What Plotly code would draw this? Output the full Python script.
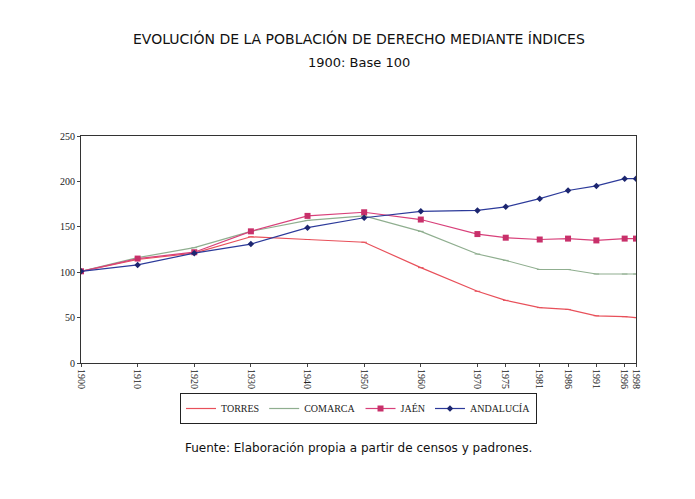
import plotly.graph_objects as go

years = [1900, 1910, 1920, 1930, 1940, 1950, 1960, 1970, 1975, 1981, 1986, 1991, 1996, 1998]
torres = [101, 114, 121, 139, 136, 133, 105, 79, 69, 61, 59, 52, 51, 50]
comarca = [101, 116, 127, 145, 157, 162, 145, 120, 113, 103, 103, 98, 98, 98]
jaen = [101, 115, 122, 145, 162, 166, 158, 142, 138, 136, 137, 135, 137, 137]
andalucia = [101, 108, 121, 131, 149, 160, 167, 168, 172, 181, 190, 195, 203, 203]

fig = go.Figure()
fig.add_trace(go.Scatter(x=years, y=torres, name="TORRES", mode="lines+markers",
                         line=dict(color="#e8505a", width=1.2),
                         marker=dict(symbol="line-ew", size=4, line=dict(color="#e8505a", width=1))))
fig.add_trace(go.Scatter(x=years, y=comarca, name="COMARCA", mode="lines+markers",
                         line=dict(color="#8fae8f", width=1.2),
                         marker=dict(symbol="line-ew", size=4, line=dict(color="#8fae8f", width=1))))
fig.add_trace(go.Scatter(x=years, y=jaen, name="JAÉN", mode="lines+markers",
                         line=dict(color="#d8407a", width=1.2),
                         marker=dict(symbol="square", size=6, color="#c8306a")))
fig.add_trace(go.Scatter(x=years, y=andalucia, name="ANDALUCÍA", mode="lines+markers",
                         line=dict(color="#2c3a9a", width=1.2),
                         marker=dict(symbol="diamond", size=5, color="#1c2670")))

H = 499 - 128 - 144
fig.update_layout(
    width=695, height=499,
    paper_bgcolor="white", plot_bgcolor="white",
    margin=dict(l=73, r=67, t=128, b=144, autoexpand=False),
    font=dict(family="Liberation Serif", size=10, color="#222"),
    showlegend=True,
    legend=dict(orientation="h", x=0.5, xanchor="center", y=(355 - 385) / H, yanchor="top",
                bordercolor="#222", borderwidth=1, font=dict(size=10),
                itemwidth=30, entrywidth=0, tracegroupgap=0),
)
for text, py, sz in [("EVOLUCIÓN DE LA POBLACIÓN DE DERECHO MEDIANTE ÍNDICES", 30, 14),
                     ("1900: Base 100", 55, 13),
                     ("Fuente: Elaboración propia a partir de censos y padrones.", 440, 12)]:
    fig.add_annotation(text=text, xref="paper", yref="paper", x=0.5,
                       y=(355 - py) / H, yanchor="middle", showarrow=False,
                       font=dict(family="DejaVu Sans", size=sz, color="#111"))

fig.update_xaxes(range=[1900, 1998], tickvals=years, tickangle=90, showgrid=False,
                 showline=True, linecolor="#333", mirror=True, zeroline=False,
                 ticks="outside", ticklen=3, automargin=False)
fig.update_yaxes(range=[0, 250], dtick=50, showgrid=False, showline=True,
                 linecolor="#333", mirror=True, zeroline=False, ticks="outside", ticklen=3,
                 automargin=False)

fig.write_html("out.html")
